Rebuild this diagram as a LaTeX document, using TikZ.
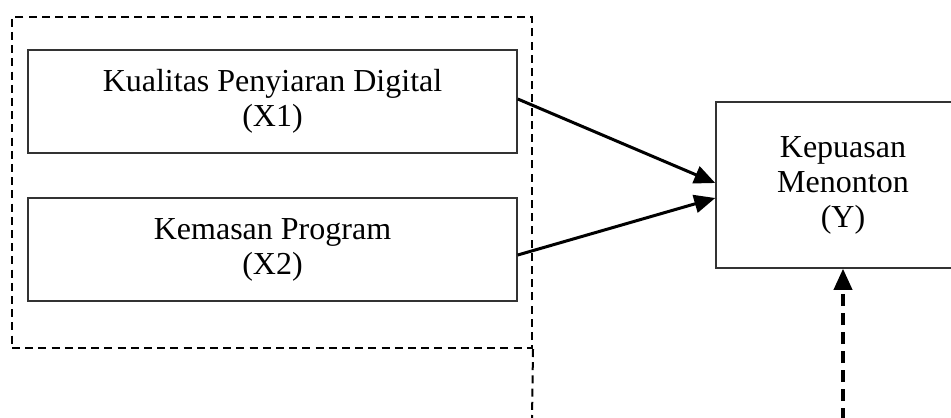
\documentclass[tikz,border=0pt]{standalone}
\usepackage{fontspec}
\setmainfont{Liberation Serif}
\usetikzlibrary{arrows.meta}
\begin{document}
\begin{tikzpicture}[x=0.5pt,y=-0.5pt,
  txt/.style={font=\fontsize{16}{17.5}\selectfont, align=center},
  varbox/.style={draw=black!80, line width=0.75pt, txt, inner sep=0pt},
  groupbox/.style={draw, dash pattern=on 4pt off 2.6pt, line width=1pt, inner sep=0pt},
  link/.style={line width=1.5pt, -{Triangle[length=10.5pt,width=9pt]}},
  dlink/.style={line width=1.8pt, dash pattern=on 6pt off 3.5pt, -{Triangle[length=10.5pt,width=9pt]}}]
\useasboundingbox (0,0) rectangle (951,417);
\clip (0,0) rectangle (951,417);
\node[groupbox, minimum width=260pt, minimum height=165.5pt] (grp) at (272,182.5) {};
\node[varbox, minimum width=244.5pt, minimum height=51.5pt] (x1) at (272.5,101.5) {Kualitas Penyiaran Digital\\(X1)};
\node[varbox, minimum width=244.5pt, minimum height=51.5pt] (x2) at (272.5,249.5) {Kemasan Program\\(X2)};
\node[varbox, minimum width=127pt, minimum height=83pt] (y) at (843,185) {Kepuasan\\Menonton\\(Y)};
\coordinate (c1) at (532,420);
\coordinate (c2) at (843,420);
\draw[link] ([yshift=1.25pt]x1.east) -- ([yshift=1pt]y.west);
\draw[link] ([yshift=-2.75pt]x2.east) -- ([yshift=-6.5pt]y.west);
\draw[line width=1pt, dash pattern=on 4pt off 2.6pt] (grp.south east) -- (c1);
\draw[dlink] (c2) -- (y.south);
\end{tikzpicture}
\end{document}
